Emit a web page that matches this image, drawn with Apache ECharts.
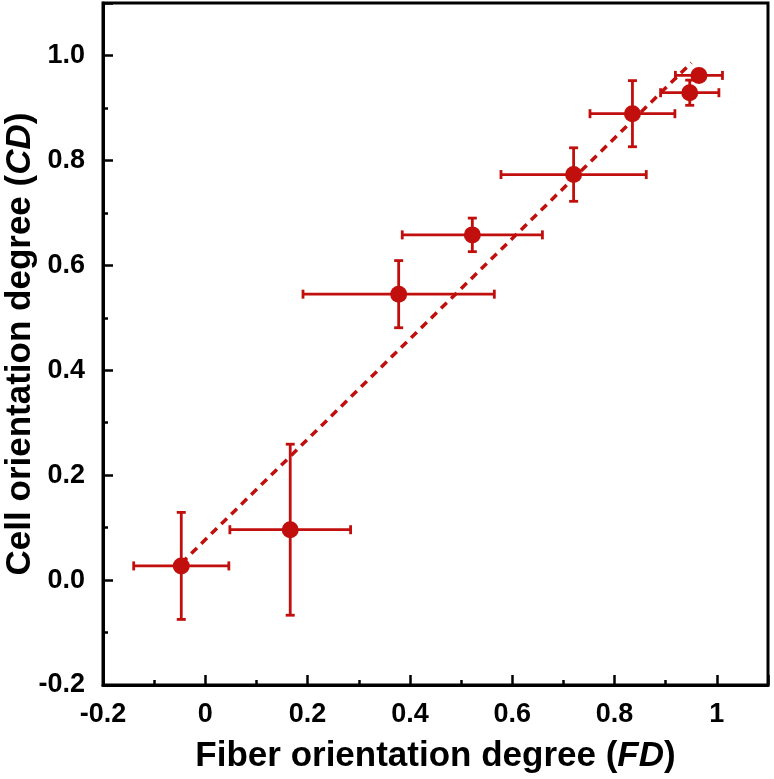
<!DOCTYPE html>
<html>
<head>
<meta charset="utf-8">
<script src="https://cdn.jsdelivr.net/npm/echarts@6/dist/echarts.min.js"></script>
<style>html,body{margin:0;padding:0;background:#fff}#c{width:774px;height:779px}</style>
</head>
<body>
<div id="c"></div>
<script>
// Data
const fdMean = [-0.047, 0.166, 0.378, 0.522, 0.720, 0.835, 0.947, 0.965];
const cdMean = [0.027, 0.096, 0.545, 0.658, 0.773, 0.889, 0.929, 0.962];
const fdErr  = [0.093, 0.118, 0.187, 0.137, 0.142, 0.083, 0.057, 0.046];
const cdErr  = [0.102, 0.163, 0.064, 0.032, 0.051, 0.063, 0.024, 0.010];
const fitX = [-0.047, 0.95];
const fitY = [0.032, 0.986];

const RED = '#c00f0c';
const FONT = '"Liberation Sans", Arial, sans-serif';

const points = fdMean.map((x, i) => [x, cdMean[i], fdErr[i], cdErr[i]]);
const fitLine = fitX.map((x, i) => [x, fitY[i]]);

function fmtX(v) {
  if (v > 1.05) return '';
  if (Math.abs(v) < 1e-9) return '0';
  if (Math.abs(v - 1) < 1e-9) return '1';
  return v.toFixed(1);
}
function fmtY(v) {
  if (v > 1.05) return '';
  return v.toFixed(1);
}

const chart = echarts.init(document.getElementById('c'), null, {renderer: 'canvas'});
chart.setOption({
  animation: false,
  backgroundColor: '#fff',
  grid: {left: 103, right: 6, top: 3, bottom: 94, containLabel: false, outerBoundsMode: 'none',
    show: true, borderColor: '#000', borderWidth: 3, backgroundColor: 'transparent'},
  xAxis: {
    type: 'value', min: -0.2, max: 1.1, interval: 0.2,
    axisLine: {show: true, onZero: false, lineStyle: {color: '#000', width: 3}},
    axisTick: {show: true, inside: true, length: 10, lineStyle: {color: '#000', width: 2.5}},
    minorTick: {show: true, splitNumber: 2, length: 5, lineStyle: {color: '#000', width: 2.5}},
    splitLine: {show: false},
    axisLabel: {formatter: fmtX, color: '#000', fontFamily: FONT, fontWeight: 'bold', fontSize: 27, margin: 16},
    name: 'Fiber orientation degree ({i|FD})',
    nameLocation: 'middle', nameGap: 54,
    nameTextStyle: {color: '#000', fontFamily: FONT, fontWeight: 'bold', fontSize: 35,
      rich: {i: {fontStyle: 'italic', fontWeight: 'bold', fontFamily: FONT, fontSize: 35, color: '#000'}}}
  },
  yAxis: {
    type: 'value', min: -0.2, max: 1.1, interval: 0.2,
    axisLine: {show: true, onZero: false, lineStyle: {color: '#000', width: 3}},
    axisTick: {show: true, inside: true, length: 10, lineStyle: {color: '#000', width: 2.5}},
    minorTick: {show: true, splitNumber: 2, length: 5, lineStyle: {color: '#000', width: 2.5}},
    splitLine: {show: false},
    axisLabel: {formatter: fmtY, color: '#000', fontFamily: FONT, fontWeight: 'bold', fontSize: 27, margin: 18},
    name: 'Cell orientation degree ({i|CD})',
    nameLocation: 'middle', nameGap: 65, nameMoveOverlap: false,
    nameTextStyle: {color: '#000', fontFamily: FONT, fontWeight: 'bold', fontSize: 35,
      rich: {i: {fontStyle: 'italic', fontWeight: 'bold', fontFamily: FONT, fontSize: 35, color: '#000'}}}
  },
  series: [
    {
      type: 'line', data: fitLine, symbol: 'none', z: 1,
      lineStyle: {color: RED, width: 3.5, type: [8, 6]}
    },
    {
      type: 'custom', z: 2,
      data: points,
      renderItem: function (params, api) {
        const x = api.value(0), y = api.value(1), ex = api.value(2), ey = api.value(3);
        const L = api.coord([x - ex, y]), R = api.coord([x + ex, y]);
        const T = api.coord([x, y + ey]), B = api.coord([x, y - ey]);
        const cap = 4.5;
        const st = {stroke: RED, lineWidth: 2.8};
        const line = (x1, y1, x2, y2) => ({type: 'line', shape: {x1, y1, x2, y2}, style: st});
        return {type: 'group', children: [
          line(L[0], L[1], R[0], R[1]),
          line(L[0], L[1] - cap, L[0], L[1] + cap),
          line(R[0], R[1] - cap, R[0], R[1] + cap),
          line(T[0], T[1], B[0], B[1]),
          line(T[0] - cap, T[1], T[0] + cap, T[1]),
          line(B[0] - cap, B[1], B[0] + cap, B[1])
        ]};
      }
    },
    {
      type: 'scatter', data: points.map(p => [p[0], p[1]]), z: 3,
      symbol: 'circle', symbolSize: 17,
      itemStyle: {color: RED, opacity: 1}
    }
  ]
});
</script>
</body>
</html>
